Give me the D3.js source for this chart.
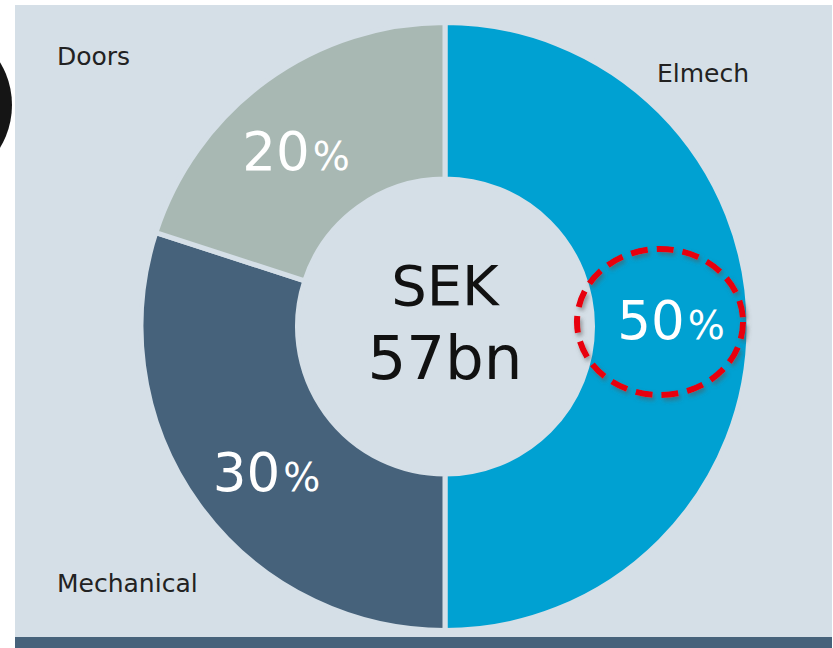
<!DOCTYPE html>
<html>
<head>
<meta charset="utf-8">
<script src="https://cdn.jsdelivr.net/npm/d3@7"></script>
<style>
  body { margin: 0; background: #ffffff; }
  svg { display: block; }
</style>
</head>
<body>
<script>
// Chart data
var segments = ["Elmech", "Mechanical", "Doors"];
var shares = [50, 30, 20];
var segmentColors = ["#00a1d2", "#46627b", "#a8b8b3"];
var centerLines = ["SEK", "57bn"];

// Define SVG area dimensions
var svgWidth = 833;
var svgHeight = 648;

var bgColor = "#d5dfe7";

var svg = d3.select("body")
    .append("svg")
    .attr("width", svgWidth)
    .attr("height", svgHeight)
    .style("font-family", "'DejaVu Sans', Verdana, sans-serif");

svg.append("defs")
    .append("filter")
    .attr("id", "shadow")
    .attr("x", "-20%").attr("y", "-20%")
    .attr("width", "140%").attr("height", "140%")
    .append("feDropShadow")
    .attr("dx", 2).attr("dy", 3)
    .attr("stdDeviation", 2)
    .attr("flood-color", "#555")
    .attr("flood-opacity", 0.55);

// panel background
svg.append("rect")
    .attr("x", 15).attr("y", 5)
    .attr("width", svgWidth - 16).attr("height", svgHeight - 5)
    .attr("fill", bgColor);

// dark strip along the bottom
svg.append("rect")
    .attr("x", 15).attr("y", 637)
    .attr("width", svgWidth - 16).attr("height", 11)
    .attr("fill", "#46627b");

// partly visible black disc on the left edge
svg.append("circle")
    .attr("cx", -70).attr("cy", 105).attr("r", 82)
    .attr("fill", "#151515");

// donut
var cx = 445, cy = 326.5;
var outerR = 304, innerR = 147.5;

var pie = d3.pie().sort(null).value(d => d);
var arcs = pie(shares);

var arc = d3.arc().innerRadius(innerR).outerRadius(outerR);
var labelArc = d3.arc().innerRadius(228).outerRadius(228);

var color = d3.scaleOrdinal().domain(segments).range(segmentColors);

var chartGroup = svg.append("g")
    .attr("transform", `translate(${cx}, ${cy})`);

chartGroup.selectAll(".slice")
    .data(arcs)
    .enter()
    .append("path")
    .attr("class", "slice")
    .attr("d", arc)
    .attr("fill", (d, i) => color(segments[i]))
    .attr("stroke", bgColor)
    .attr("stroke-width", 5);

// small nudges so the labels sit like in the original
var labelNudge = [[-2, -6], [6, 12], [-15, 10]];

var pct = chartGroup.selectAll(".pct")
    .data(arcs)
    .enter()
    .append("text")
    .attr("class", "pct")
    .attr("transform", (d, i) => {
        var c = labelArc.centroid(d);
        return `translate(${c[0] + labelNudge[i][0]}, ${c[1] + labelNudge[i][1] + 18})`;
    })
    .attr("text-anchor", "middle")
    .attr("fill", "#ffffff");

pct.append("tspan")
    .attr("font-size", "53px")
    .text(d => d.data);
pct.append("tspan")
    .attr("font-size", "39px")
    .attr("dx", 3)
    .text("%");

// centre text
chartGroup.selectAll(".centre")
    .data(centerLines)
    .enter()
    .append("text")
    .attr("class", "centre")
    .attr("x", 0)
    .attr("y", (d, i) => i === 0 ? -22 : 52)
    .attr("text-anchor", "middle")
    .attr("font-size", (d, i) => i === 0 ? "56px" : "61px")
    .attr("fill", "#111")
    .text(d => d);

// category labels in the corners
var labelPos = {
    "Elmech": [657, 82],
    "Mechanical": [57, 592],
    "Doors": [57, 65]
};

svg.selectAll(".cat")
    .data(segments)
    .enter()
    .append("text")
    .attr("class", "cat")
    .attr("x", d => labelPos[d][0])
    .attr("y", d => labelPos[d][1])
    .attr("font-size", "25px")
    .attr("fill", "#222")
    .text(d => d);

// red dashed highlight around the 50% label
svg.append("ellipse")
    .attr("cx", 660).attr("cy", 322)
    .attr("rx", 83).attr("ry", 73)
    .attr("fill", "none")
    .attr("stroke", "#e8000b")
    .attr("stroke-width", 6)
    .attr("stroke-dasharray", "17 9")
    .attr("filter", "url(#shadow)");
</script>
</body>
</html>
